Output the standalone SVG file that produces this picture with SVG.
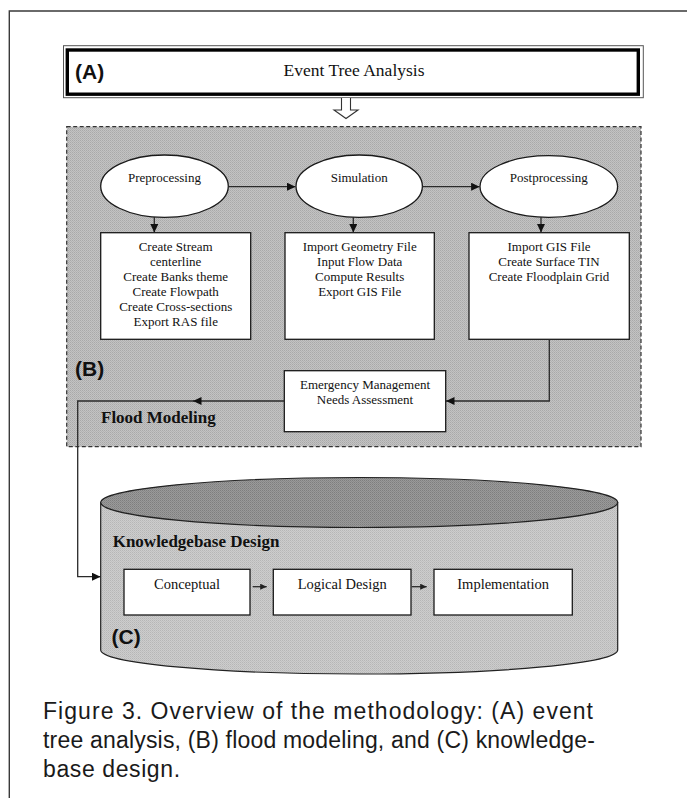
<svg xmlns="http://www.w3.org/2000/svg" width="687" height="798" viewBox="0 0 687 798">
  <style>
    .serif { font-family: "Liberation Serif", "Times New Roman", serif; fill: #111; }
    .sm { font-size: 13px; }
    .md { font-size: 14.5px; }
    .ttl { font-size: 17px; font-weight: bold; }
    .tag { font-family: "Liberation Sans", Arial, sans-serif; font-size: 21px; font-weight: bold; fill: #111; }
    .cap { font-family: "Liberation Sans", Arial, sans-serif; font-size: 23px; fill: #1a1a1a; }
    .box { fill: #fff; stroke: #1a1a1a; stroke-width: 1.3; }
    .conn { fill: none; stroke: #2a2a2a; stroke-width: 1.3; }
  </style>
  <defs>
    <!-- fine halftone greys -->
    <pattern id="greyMid" width="2" height="2" patternUnits="userSpaceOnUse">
      <rect width="2" height="2" fill="#c3c3c3"/>
      <rect width="1" height="1" fill="#a9a9a9"/>
      <rect x="1" y="1" width="1" height="1" fill="#b3b3b3"/>
    </pattern>
    <pattern id="greyLight" width="2" height="2" patternUnits="userSpaceOnUse">
      <rect width="2" height="2" fill="#cdcdcd"/>
      <rect width="1" height="1" fill="#b6b6b6"/>
      <rect x="1" y="1" width="1" height="1" fill="#c0c0c0"/>
    </pattern>
    <pattern id="greyDark" width="2" height="2" patternUnits="userSpaceOnUse">
      <rect width="2" height="2" fill="#9a9a9a"/>
      <rect width="1" height="1" fill="#7e7e7e"/>
      <rect x="1" y="1" width="1" height="1" fill="#8a8a8a"/>
    </pattern>
    <marker id="arrow" markerWidth="9" markerHeight="8" refX="8.5" refY="4" orient="auto" markerUnits="userSpaceOnUse">
      <path d="M0,0 L8.5,4 L0,8 Z" fill="#111"/>
    </marker>
    <marker id="arrowSm" markerWidth="7" markerHeight="6" refX="6.5" refY="3" orient="auto" markerUnits="userSpaceOnUse">
      <path d="M0,0 L6.5,3 L0,6 Z" fill="#222"/>
    </marker>
  </defs>

  <rect width="687" height="798" fill="#fff"/>

  <!-- outer frame (top and left rules) -->
  <path d="M9.3,798 V11 H687" fill="none" stroke="#3a3a3a" stroke-width="1.4"/>

  <!-- (A) Event Tree Analysis -->
  <g id="event-tree">
    <rect x="63.5" y="45.7" width="579.8" height="52" fill="#fff" stroke="#555" stroke-width="1"/>
    <rect x="67.3" y="50" width="571" height="44.2" fill="#fff" stroke="#000" stroke-width="3.4"/>
    <text class="tag" x="75" y="79">(A)</text>
    <text class="serif" x="354" y="75.5" font-size="17.5" text-anchor="middle">Event Tree Analysis</text>
  </g>

  <!-- hollow arrow from (A) to (B) -->
  <g id="a-to-b">
    <path d="M341.5,98 V110 H334 L346,118.5 L358,110 H350.5 V98" fill="#fff" stroke="#333" stroke-width="1.1"/>
  </g>

  <!-- (B) Flood Modeling panel -->
  <g id="flood-modeling">
    <rect x="66.7" y="126.7" width="574.3" height="320" fill="url(#greyMid)" stroke="#333" stroke-width="1.2" stroke-dasharray="4 2.5"/>
    <text class="tag" x="75" y="376">(B)</text>
    <text class="serif ttl" x="101" y="422.7">Flood Modeling</text>
  </g>

  <g id="preprocessing">
    <ellipse cx="164.5" cy="186.2" rx="63.8" ry="31.2" class="box"/>
    <text class="serif sm" x="164.5" y="182" text-anchor="middle">Preprocessing</text>
  </g>
  <g id="simulation">
    <ellipse cx="359.2" cy="186.2" rx="63.2" ry="31.2" class="box"/>
    <text class="serif sm" x="359.2" y="182" text-anchor="middle">Simulation</text>
  </g>
  <g id="postprocessing">
    <ellipse cx="548.8" cy="186.5" rx="68.8" ry="30.8" class="box"/>
    <text class="serif sm" x="548.8" y="182" text-anchor="middle">Postprocessing</text>
  </g>

  <g id="preprocessing-tasks">
    <rect x="100.7" y="232.7" width="150" height="106.6" class="box"/>
    <g class="serif sm" text-anchor="middle">
      <text x="175.7" y="250.7">Create Stream</text>
      <text x="175.7" y="265.7">centerline</text>
      <text x="175.7" y="280.7">Create Banks theme</text>
      <text x="175.7" y="295.7">Create Flowpath</text>
      <text x="175.7" y="310.7">Create Cross-sections</text>
      <text x="175.7" y="325.7">Export RAS file</text>
    </g>
  </g>
  <g id="simulation-tasks">
    <rect x="285" y="232.7" width="149.3" height="106.6" class="box"/>
    <g class="serif sm" text-anchor="middle">
      <text x="359.7" y="250.7">Import Geometry File</text>
      <text x="359.7" y="265.7">Input Flow Data</text>
      <text x="359.7" y="280.7">Compute Results</text>
      <text x="359.7" y="295.7">Export GIS File</text>
    </g>
  </g>
  <g id="postprocessing-tasks">
    <rect x="469" y="232.7" width="160.3" height="106.6" class="box"/>
    <g class="serif sm" text-anchor="middle">
      <text x="549" y="250.7">Import GIS File</text>
      <text x="549" y="265.7">Create Surface TIN</text>
      <text x="549" y="280.7">Create Floodplain Grid</text>
    </g>
  </g>
  <g id="needs-assessment">
    <rect x="284.3" y="370.7" width="161.4" height="61" class="box"/>
    <g class="serif sm" text-anchor="middle">
      <text x="365" y="389">Emergency Management</text>
      <text x="365" y="404">Needs Assessment</text>
    </g>
  </g>

  <!-- (C) Knowledgebase Design cylinder -->
  <g id="knowledgebase">
    <path d="M100.7,502.5 V650 A258.5,24 0 0 0 617.7,650 V502.5 Z" fill="url(#greyLight)" stroke="#222" stroke-width="1.2"/>
    <ellipse cx="359.2" cy="502.5" rx="258.5" ry="25" fill="url(#greyDark)" stroke="#222" stroke-width="1.2"/>
    <text class="serif ttl" x="112.7" y="546.7">Knowledgebase Design</text>
    <text class="tag" x="111.5" y="644">(C)</text>
  </g>
  <g id="conceptual">
    <rect x="124" y="569.3" width="126" height="45.7" class="box"/>
    <text class="serif md" x="187" y="589.3" text-anchor="middle">Conceptual</text>
  </g>
  <g id="logical-design">
    <rect x="273.3" y="569.3" width="137.7" height="45.7" class="box"/>
    <text class="serif md" x="342.2" y="589.3" text-anchor="middle">Logical Design</text>
  </g>
  <g id="implementation">
    <rect x="434" y="569.3" width="138.3" height="45.7" class="box"/>
    <text class="serif md" x="503.2" y="589.3" text-anchor="middle">Implementation</text>
  </g>

  <!-- connectors -->
  <g id="connectors">
    <path class="conn" d="M228.3,186.7 H295.5" marker-end="url(#arrow)"/>
    <path class="conn" d="M422.4,186.7 H479.6" marker-end="url(#arrow)"/>
    <path class="conn" d="M154.3,217 V232.5" marker-end="url(#arrow)"/>
    <path class="conn" d="M353.3,217 V232.5" marker-end="url(#arrow)"/>
    <path class="conn" d="M541,217 V232.5" marker-end="url(#arrow)"/>
    <path class="conn" d="M549.3,339.3 V401 H446" marker-end="url(#arrow)"/>
    <path class="conn" d="M284.3,401 H193" marker-end="url(#arrow)"/>
    <path class="conn" d="M194,401 H77.7 V576.7 H100.5" marker-end="url(#arrow)"/>
    <path class="conn" d="M252.7,586.7 H266.7" marker-end="url(#arrowSm)"/>
    <path class="conn" d="M411.7,586.7 H426.7" marker-end="url(#arrowSm)"/>
  </g>

  <!-- caption -->
  <g class="cap">
    <text x="43" y="719" textLength="550" lengthAdjust="spacing">Figure 3. Overview of the methodology: (A) event</text>
    <text x="43" y="748" textLength="552" lengthAdjust="spacing">tree analysis, (B) flood modeling, and (C) knowledge-</text>
    <text x="43" y="777" letter-spacing="0.6">base design.</text>
  </g>
</svg>
